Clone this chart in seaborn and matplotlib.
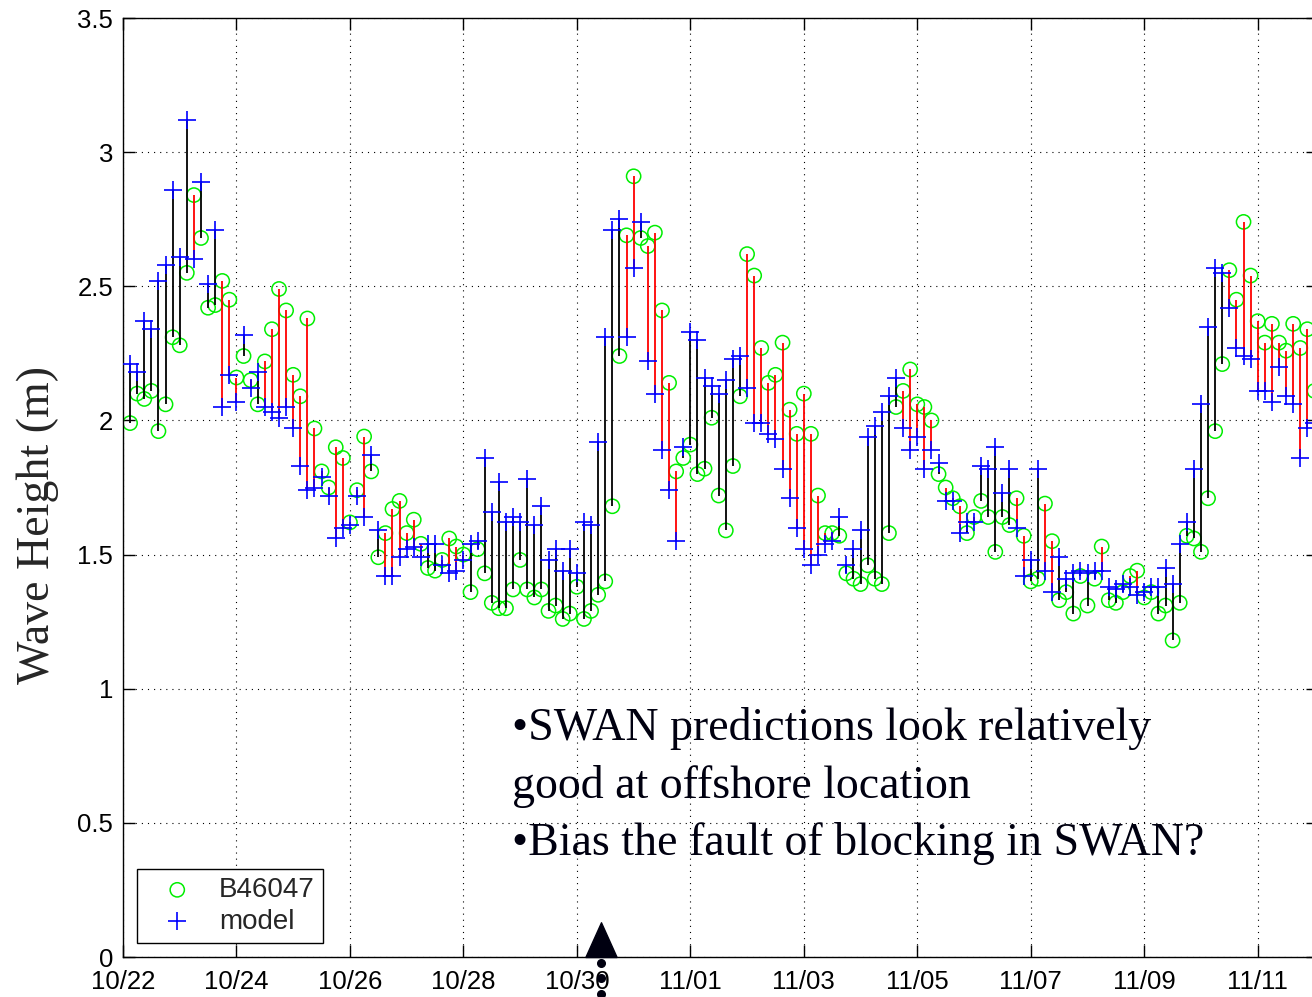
import numpy as np
import pandas as pd
import matplotlib
matplotlib.use("Agg")
import matplotlib.pyplot as plt
import matplotlib.transforms as mtransforms
from matplotlib.path import Path
import seaborn as sns

# ---------------------------------------------------------------------------
# Significant wave height at buoy 46047 vs. SWAN model, 3-hourly
# ---------------------------------------------------------------------------
start_time = "2003-10-22 03:00"
sample_step = "3h"

buoy_hs = [
    1.99, 2.10, 2.08, 2.11, 1.96, 2.06, 2.31, 2.28, 2.55, 2.84,
    2.68, 2.42, 2.43, 2.52, 2.45, 2.16, 2.24, 2.15, 2.06, 2.22,
    2.34, 2.49, 2.41, 2.17, 2.09, 2.38, 1.97, 1.81, 1.75, 1.90,
    1.86, 1.62, 1.74, 1.94, 1.81, 1.49, 1.58, 1.67, 1.70, 1.58,
    1.63, 1.54, 1.45, 1.44, 1.48, 1.56, 1.53, 1.50, 1.36, 1.52,
    1.43, 1.32, 1.30, 1.30, 1.37, 1.48, 1.37, 1.34, 1.37, 1.29,
    1.31, 1.26, 1.28, 1.38, 1.26, 1.29, 1.35, 1.40, 1.68, 2.24,
    2.69, 2.91, 2.68, 2.65, 2.70, 2.41, 2.14, 1.81, 1.86, 1.91,
    1.80, 1.82, 2.01, 1.72, 1.59, 1.83, 2.09, 2.62, 2.54, 2.27,
    2.14, 2.17, 2.29, 2.04, 1.95, 2.10, 1.95, 1.72, 1.58, 1.58,
    1.57, 1.43, 1.41, 1.39, 1.46, 1.41, 1.39, 1.58, 2.05, 2.11,
    2.19, 2.06, 2.05, 2.00, 1.80, 1.75, 1.71, 1.68, 1.58, 1.64,
    1.70, 1.64, 1.51, 1.64, 1.61, 1.71, 1.57, 1.40, 1.41, 1.69,
    1.55, 1.33, 1.36, 1.28, 1.42, 1.31, 1.41, 1.53, 1.33, 1.32,
    1.36, 1.42, 1.44, 1.34, 1.36, 1.28, 1.31, 1.18, 1.32, 1.57,
    1.56, 1.51, 1.71, 1.96, 2.21, 2.56, 2.45, 2.74, 2.54, 2.37,
    2.29, 2.36, 2.29, 2.26, 2.36, 2.27, 2.34, 2.11,
]

model_hs = [
    2.21, 2.18, 2.37, 2.34, 2.52, 2.58, 2.86, 2.61, 3.12, 2.60,
    2.89, 2.51, 2.71, 2.05, 2.17, 2.07, 2.32, 2.12, 2.18, 2.05,
    2.03, 2.01, 2.05, 1.97, 1.83, 1.74, 1.75, 1.79, 1.72, 1.56,
    1.60, 1.61, 1.72, 1.64, 1.87, 1.59, 1.42, 1.42, 1.49, 1.52,
    1.53, 1.49, 1.54, 1.54, 1.46, 1.43, 1.44, 1.48, 1.54, 1.55,
    1.86, 1.66, 1.77, 1.62, 1.64, 1.62, 1.78, 1.61, 1.68, 1.48,
    1.52, 1.44, 1.52, 1.43, 1.62, 1.61, 1.92, 2.31, 2.71, 2.75,
    2.31, 2.57, 2.74, 2.22, 2.10, 1.89, 1.74, 1.55, 1.90, 2.33,
    2.30, 2.16, 2.13, 2.10, 2.15, 2.23, 2.24, 2.12, 1.99, 1.99,
    1.95, 1.93, 1.82, 1.71, 1.60, 1.52, 1.46, 1.50, 1.54, 1.55,
    1.64, 1.46, 1.52, 1.59, 1.94, 1.98, 2.03, 2.09, 2.16, 1.97,
    1.89, 1.94, 1.82, 1.89, 1.84, 1.70, 1.70, 1.58, 1.62, 1.62,
    1.83, 1.82, 1.90, 1.73, 1.82, 1.60, 1.42, 1.48, 1.82, 1.44,
    1.36, 1.49, 1.41, 1.43, 1.44, 1.43, 1.44, 1.44, 1.38, 1.37,
    1.39, 1.38, 1.35, 1.36, 1.38, 1.38, 1.45, 1.39, 1.54, 1.62,
    1.82, 2.06, 2.35, 2.57, 2.55, 2.42, 2.27, 2.24, 2.23, 2.11,
    2.11, 2.07, 2.20, 2.09, 2.06, 1.86, 1.97, 1.99,
]

series_labels = ["B46047", "model"]

x_ticks = pd.date_range("2003-10-22", "2003-11-11", freq="2D")
x_range = (pd.Timestamp("2003-10-22 00:00"), pd.Timestamp("2003-11-12 01:30"))
y_ticks = [0, 0.5, 1, 1.5, 2, 2.5, 3, 3.5]
y_tick_labels = ["0", "0.5", "1", "1.5", "2", "2.5", "3", "3.5"]

event_time = pd.Timestamp("2003-10-30 10:00")

notes = [
    "\u2022SWAN predictions look relatively",
    "good at offshore location",
    "\u2022Bias the fault of blocking in SWAN?",
]

df = pd.DataFrame({
    "time": pd.date_range(start_time, periods=len(buoy_hs), freq=sample_step),
    "buoy": buoy_hs,
    "model": model_hs,
})

# ---------------------------------------------------------------------------
sns.set_style("ticks")
plt.rcParams["font.family"] = ["Liberation Sans", "DejaVu Sans"]
SERIF = ["Liberation Serif", "DejaVu Serif"]

fig = plt.figure(figsize=(13.12, 9.97), dpi=100)
ax = fig.add_axes([123 / 1312, 40 / 997, 1195 / 1312, 939 / 997])

# error stems: red where the buoy is above the model, black otherwise
stem_colors = np.where(df["buoy"] > df["model"], "#ff0000", "#000000")
ax.vlines(df["time"], df["buoy"], df["model"], colors=stem_colors,
          linewidth=1.3, zorder=3)

sns.scatterplot(data=df, x="time", y="buoy", marker="o", s=105,
                facecolors="none", edgecolor="#00ee00", linewidth=1.1,
                label=series_labels[0], ax=ax, zorder=2)
sns.scatterplot(data=df, x="time", y="model", marker="+", s=150,
                color="#0000ff", linewidth=1.2,
                label=series_labels[1], ax=ax, zorder=4)

ax.set_xlim(*x_range)
ax.set_ylim(y_ticks[0], y_ticks[-1])
ax.set_xticks(x_ticks)
ax.set_xticklabels([t.strftime("%m/%d") for t in x_ticks])
ax.set_yticks(y_ticks)
ax.set_yticklabels(y_tick_labels)
ax.set_xlabel("")
ax.set_ylabel("Wave Height (m)", family=SERIF, fontsize=33, va="center")
ax.yaxis.set_label_coords(-0.0715, 0.46)

ax.grid(True, color="black", linestyle=(0, (1, 4.5)), linewidth=0.8)
ax.tick_params(direction="in", length=8.5, width=1, colors="black",
               labelsize=18.5, top=True, right=True)
ax.tick_params(axis="y", pad=7)
ax.tick_params(axis="x", pad=9)
for sp in ax.spines.values():
    sp.set_visible(True)
    sp.set_color("black")
    sp.set_linewidth(1.0)

leg = ax.legend(loc="lower left", bbox_to_anchor=(0.0117, 0.0149),
                borderaxespad=0, fontsize=20, frameon=True, fancybox=False,
                framealpha=1, edgecolor="black", borderpad=0.3,
                labelspacing=0.2, handlelength=2.3, handletextpad=0.35,
                scatterpoints=1)
leg.get_frame().set_linewidth(1.0)

# event marker sitting on the time axis, with a dotted leader below it
tri = Path([(-0.9, 0), (0.9, 0), (0, 2), (-0.9, 0)],
           [Path.MOVETO, Path.LINETO, Path.LINETO, Path.CLOSEPOLY])
ax.plot([event_time], [y_ticks[0]], marker=tri, markersize=50,
        color="#000010", linestyle="none", clip_on=False, zorder=6)
blend = mtransforms.blended_transform_factory(ax.transData, ax.transAxes)
leader_y = np.linspace(-0.006, -0.039, 3)
ax.plot([event_time] * len(leader_y), leader_y, transform=blend,
        color="#000010", marker="o", markersize=5.5, linestyle="none",
        clip_on=False, zorder=6)

# commentary
for k, line in enumerate(notes):
    fig.text(512 / 1312, 1 - (740 + 57.5 * k) / 997, line, family=SERIF,
             fontsize=33, color="#000010", ha="left", va="baseline")

fig.savefig("out.png", dpi=100)
